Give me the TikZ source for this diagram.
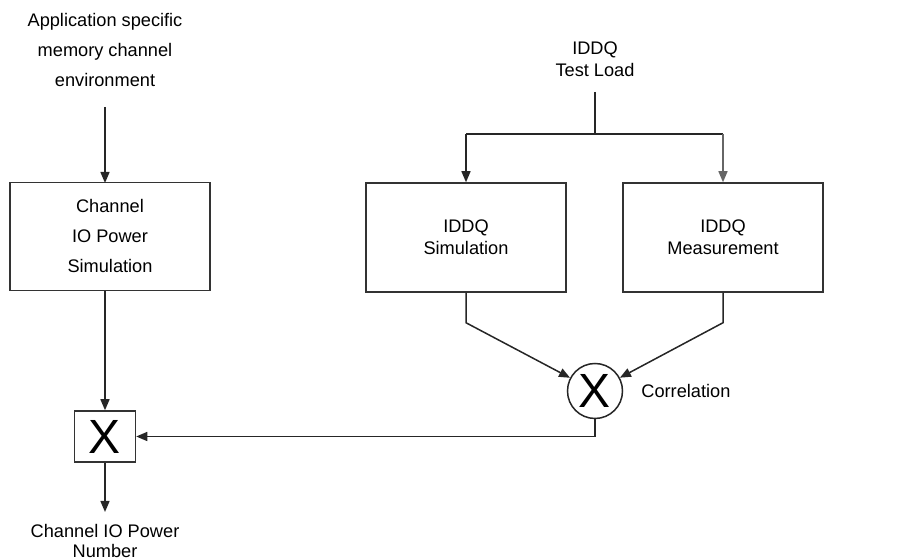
\documentclass[tikz,border=0pt]{standalone}
\usepackage{fontspec}
\setmainfont{Liberation Sans}
\usetikzlibrary{arrows.meta}
\tikzset{
  box/.style={draw=black!80, line width=.75pt, minimum width=100pt, minimum height=54pt, align=center},
  arr/.style={draw=black!85, line width=.75pt, -{Triangle[length=5.5pt,width=4.5pt]}},
  line/.style={draw=black!85, line width=.75pt},
  txt/.style={align=center, inner sep=0pt}
}
\begin{document}
\begin{tikzpicture}[x=.5pt, y=.5pt, yscale=-1, font=\fontsize{9.1}{11}\selectfont]
        \useasboundingbox (0, 0) rectangle (912, 560);
        % left branch
        \node[txt, font=\fontsize{9.1}{15}\selectfont] (env) at (105, 50) {Application specific\\memory channel\\environment};
        \node[box, font=\fontsize{9.1}{15}\selectfont] (chsim) at (110, 236.5) {Channel\\IO Power\\Simulation};
        \node[draw=black!80, line width=.75pt, minimum width=30.5pt, minimum height=25.5pt, inner sep=0pt, font=\fontsize{24}{24}\selectfont] (mult) at (105, 436.5) {X};
        \node[txt, font=\fontsize{9.1}{10}\selectfont] (out) at (105, 541) {Channel IO Power\\Number};
        % right branch
        \node[txt] (load) at (595, 59) {IDDQ\\Test Load};
        \node[box, minimum height=54.5pt] (sim) at (466, 237.5) {IDDQ\\Simulation};
        \node[box, minimum height=54.5pt] (meas) at (723, 237.5) {IDDQ\\Measurement};
        \node[draw=black!85, line width=.75pt, circle, minimum size=27.5pt, inner sep=0pt, font=\fontsize{24}{24}\selectfont] (corr) at (595, 391) {X};
        \node[anchor=west, inner sep=0pt] (corrlabel) at (641, 391) {Correlation};
        \coordinate (split) at (595, 134);
        % connectors
        \draw[arr] (105, 107) -- (105, 183);
        \draw[arr] (mult.north |- chsim.south) -- (mult.north);
        \draw[arr] (mult.south) -- (105, 512);
        \draw[line] (595, 92) -- (split);
        \draw[line] (sim.north |- split) -- (meas.north |- split);
        \draw[arr] (sim.north |- split) -- (sim.north);
        \draw[arr, draw=black!60, -{Triangle[length=5.5pt,width=4.5pt,fill=black!60]}] (meas.north |- split) -- (meas.north);
        \draw[arr] (sim.south) -- ++(0, 30) -- (corr);
        \draw[arr] (meas.south) -- ++(0, 30) -- (corr);
        \draw[arr] (corr.south) -- (corr.south |- mult.east) -- (mult.east);
      \end{tikzpicture}
\end{document}
